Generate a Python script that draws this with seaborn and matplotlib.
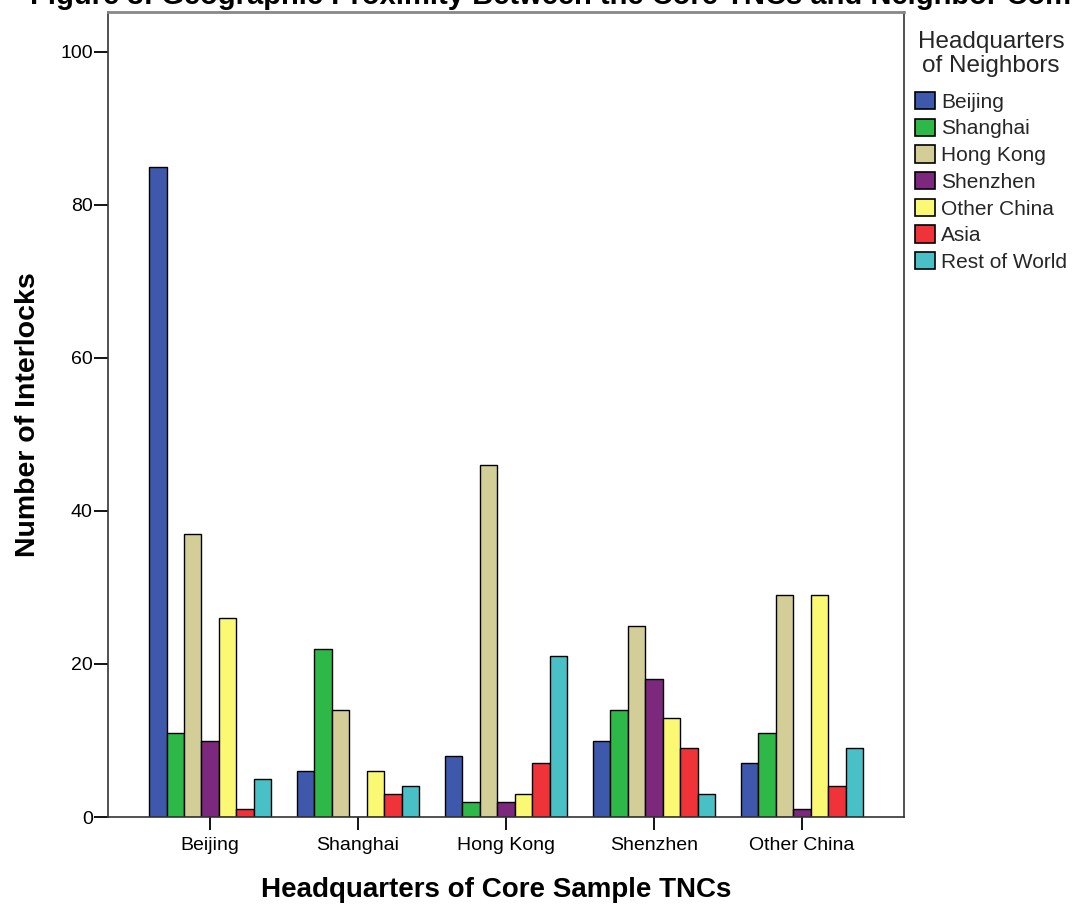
import matplotlib
matplotlib.use("Agg")
import matplotlib.pyplot as plt
import seaborn as sns
import pandas as pd

core_hq = ["Beijing", "Shanghai", "Hong Kong", "Shenzhen", "Other China"]
neighbor_hq = ["Beijing", "Shanghai", "Hong Kong", "Shenzhen", "Other China", "Asia", "Rest of World"]

# values per neighbor HQ, one entry per core HQ
beijing_vals = [85, 6, 8, 10, 7]
shanghai_vals = [11, 22, 2, 14, 11]
hongkong_vals = [37, 14, 46, 25, 29]
shenzhen_vals = [10, 0, 2, 18, 1]
otherchina_vals = [26, 6, 3, 13, 29]
asia_vals = [1, 3, 7, 9, 4]
restworld_vals = [5, 4, 21, 3, 9]

series = [beijing_vals, shanghai_vals, hongkong_vals, shenzhen_vals,
          otherchina_vals, asia_vals, restworld_vals]

palette = ["#3E58AC", "#2EB848", "#D3CE97", "#7B287D", "#FBF873", "#EF3338", "#48C0C6"]

rows = []
for name, vals in zip(neighbor_hq, series):
    for core, v in zip(core_hq, vals):
        rows.append({"core": core, "neighbor": name, "count": v})
df = pd.DataFrame(rows)

sns.set_theme(style="white")
plt.rcParams["font.family"] = ["Liberation Sans", "DejaVu Sans"]

fig = plt.figure(figsize=(10.73, 9.05), dpi=100)
ax = fig.add_axes([0.1007, 0.0972, 0.7418, 0.8895])

sns.barplot(data=df, x="core", y="count", hue="neighbor", order=core_hq,
            hue_order=neighbor_hq, palette=palette, width=0.825,
            edgecolor="black", linewidth=1.0, saturation=1, ax=ax)

ax.set_xlim(-0.69, 4.69)
ax.set_ylim(0, 105.2)
ax.set_yticks([0, 20, 40, 60, 80, 100])
ax.tick_params(axis="both", which="major", direction="out", width=1.3,
               color="black", labelsize=14, labelcolor="black", bottom=True, left=True)
ax.tick_params(axis="y", length=10, pad=1)
ax.tick_params(axis="x", length=9, pad=5.5)
for s in ax.spines.values():
    s.set_color("#333333")
    s.set_linewidth(1.2)
ax.spines["top"].set_color("#888888")
ax.spines["top"].set_linewidth(2)

ax.set_xlabel("Headquarters of Core Sample TNCs", fontsize=20, fontweight="bold",
              color="black")
ax.set_ylabel("Number of Interlocks", fontsize=20.5, fontweight="bold",
              color="black")
ax.xaxis.set_label_coords(0.488, -0.075)
ax.yaxis.set_label_coords(-0.084, 0.5)

leg = ax.legend(title="Headquarters\nof Neighbors", loc="upper left",
                bbox_to_anchor=(1.0138, 0.977), frameon=False, fontsize=15,
                title_fontsize=17.5, handlelength=0.97, handleheight=0.9,
                handletextpad=0.3, labelspacing=0.33, borderaxespad=0, borderpad=0)
leg._legend_box.align = "center"
leg._legend_box.sep = 11
leg.get_title().set_multialignment("center")
leg.get_title().set_linespacing(1.12)
for h in leg.legend_handles:
    h.set_edgecolor("black")
    h.set_linewidth(1.2)

fig.text(30 / 1073, 1 - 3.5 / 905,
         "Figure 3: Geographic Proximity Between the Core TNCs and Neighbor Companies",
         fontsize=21, fontweight="bold", ha="left", va="baseline", color="black")

fig.savefig("out.png", dpi=100)
